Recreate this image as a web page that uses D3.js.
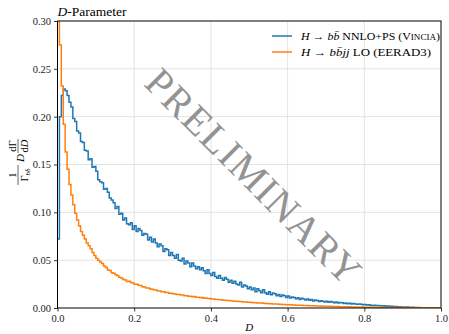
<!DOCTYPE html>
<html>
<head>
<meta charset="utf-8">
<script src="https://cdn.jsdelivr.net/npm/d3@7"></script>
<style>
  body { margin: 0; background: #fff; }
  svg { display: block; }
  text { font-family: "Liberation Serif", "DejaVu Serif", serif; }
</style>
</head>
<body>
<div id="chart"></div>
<script>

// histogram bins of width 0.005 in D, from 0 to 1
let binWidth = 0.005;

let vinciaValues = [
  0.072, 0.200, 0.222, 0.229, 0.227, 0.222, 0.215, 0.210, 0.198, 0.195,
  0.185, 0.183, 0.174, 0.173, 0.165, 0.164, 0.155, 0.156, 0.147, 0.148,
  0.143, 0.134, 0.132, 0.131, 0.124, 0.125, 0.121, 0.115, 0.113, 0.110,
  0.104, 0.106, 0.098, 0.099, 0.092, 0.094, 0.088, 0.087, 0.089, 0.082,
  0.086, 0.080, 0.083, 0.081, 0.076, 0.078, 0.077, 0.071, 0.074, 0.069,
  0.072, 0.068, 0.064, 0.067, 0.065, 0.059, 0.062, 0.061, 0.055, 0.058,
  0.055, 0.052, 0.056, 0.050, 0.049, 0.052, 0.046, 0.049, 0.047, 0.043,
  0.047, 0.044, 0.041, 0.043, 0.040, 0.042, 0.039, 0.036, 0.040, 0.036,
  0.034, 0.037, 0.033, 0.031, 0.034, 0.031, 0.029, 0.032, 0.030, 0.027,
  0.029, 0.026, 0.028, 0.025, 0.024, 0.027, 0.022, 0.024, 0.023, 0.020,
  0.022, 0.019, 0.021, 0.017, 0.020, 0.018, 0.016, 0.019, 0.016, 0.0145,
  0.017, 0.0138, 0.0158, 0.0150, 0.0128, 0.0142, 0.0120, 0.0135, 0.0128, 0.0110,
  0.0126, 0.0104, 0.0116, 0.0110, 0.0096, 0.0108, 0.0090, 0.0101, 0.0094, 0.0083,
  0.0094, 0.0080, 0.0088, 0.0074, 0.0083, 0.0078, 0.0068, 0.0077, 0.0071, 0.0062,
  0.0071, 0.0059, 0.0067, 0.0062, 0.0056, 0.0063, 0.0052, 0.0058, 0.0054, 0.0047,
  0.0053, 0.0045, 0.0050, 0.0042, 0.0047, 0.0043, 0.0038, 0.0043, 0.0039, 0.0034,
  0.0037, 0.0031, 0.0034, 0.0030, 0.0027, 0.0030, 0.0025, 0.0027, 0.0023, 0.0022,
  0.0023, 0.0019, 0.0020, 0.0017, 0.0018, 0.0015, 0.0016, 0.0013, 0.0013, 0.0011,
  0.0011, 0.0009, 0.0010, 0.0008, 0.0007, 0.0007, 0.0005, 0.0006, 0.0004, 0.0003,
  0.0003, 0.0002, 0.0002, 0.0001, 0.0001, 0, 0, 0, 0, 0
];

let eerad3Values = [
  0.330, 0.275, 0.232, 0.192, 0.163, 0.145, 0.129, 0.118, 0.108, 0.099,
  0.092, 0.086, 0.080, 0.076, 0.072, 0.068, 0.065, 0.062, 0.058, 0.055,
  0.052, 0.050, 0.048, 0.0465, 0.0438, 0.0424, 0.0398, 0.0392, 0.0368, 0.0362,
  0.0348, 0.0338, 0.0318, 0.0314, 0.0297, 0.0293, 0.0278, 0.0279, 0.0266, 0.0262,
  0.0248, 0.0247, 0.0238, 0.0234, 0.0222, 0.0220, 0.0210, 0.0209, 0.0198, 0.0197,
  0.0188, 0.0187, 0.0179, 0.0178, 0.0170, 0.0169, 0.0162, 0.0161, 0.0155, 0.0154,
  0.0148, 0.0147, 0.0141, 0.0141, 0.0135, 0.0135, 0.0129, 0.0129, 0.0123, 0.0124,
  0.0118, 0.0119, 0.0113, 0.0113, 0.0108, 0.0109, 0.0103, 0.0104, 0.0099, 0.0099,
  0.0095, 0.0094, 0.0090, 0.0090, 0.0086, 0.0086, 0.0082, 0.0082, 0.0078, 0.0078,
  0.0075, 0.0074, 0.0071, 0.0071, 0.0068, 0.0068, 0.0065, 0.0064, 0.0062, 0.0061,
  0.0059, 0.0058, 0.0056, 0.0055, 0.0053, 0.0052, 0.0051, 0.0049, 0.0048, 0.0047,
  0.0045, 0.0044, 0.0043, 0.0042, 0.0041, 0.0040, 0.0038, 0.0037, 0.0036, 0.0035,
  0.0034, 0.0033, 0.0032, 0.0031, 0.0030, 0.0029, 0.0029, 0.0028, 0.0027, 0.0026,
  0.0025, 0.0024, 0.0024, 0.0023, 0.0022, 0.0021, 0.0021, 0.0020, 0.0019, 0.0019,
  0.0018, 0.0017, 0.0017, 0.0016, 0.0016, 0.0015, 0.0015, 0.0014, 0.0014, 0.0013,
  0.0013, 0.0012, 0.0012, 0.0011, 0.0011, 0.0011, 0.0010, 0.0010, 0.0010, 0.0009,
  0.0009, 0.0009, 0.0008, 0.0008, 0.0008, 0.0007, 0.0007, 0.0007, 0.0006, 0.0006,
  0.0006, 0.0006, 0.0005, 0.0005, 0.0005, 0.0005, 0.0004, 0.0004, 0.0004, 0.0004,
  0.0004, 0.0003, 0.0003, 0.0003, 0.0003, 0.0003, 0.0003, 0.0002, 0.0002, 0.0002,
  0.0002, 0.0002, 0.0002, 0.0002, 0.0001, 0.0001, 0.0001, 0.0001, 0.0001, 0.0001
];

let xTicks = [0.0, 0.2, 0.4, 0.6, 0.8, 1.0];
let yTicks = [0.00, 0.05, 0.10, 0.15, 0.20, 0.25, 0.30];

let seriesColors = ["#1f77b4", "#ff7f0e"];

let width = 449;
let height = 334;
let margin = {top: 21, right: 8, bottom: 26, left: 57.5};

let svg = d3.select("#chart").append("svg")
    .attr("width", width)
    .attr("height", height);

let x = d3.scaleLinear().domain([0, 1]).range([margin.left, width - margin.right]);
let y = d3.scaleLinear().domain([0, 0.3]).range([height - margin.bottom, margin.top]);

// grid
svg.append("g")
    .selectAll("line")
    .data(xTicks.slice(1, -1))
    .join("line")
        .attr("x1", d => x(d)).attr("x2", d => x(d))
        .attr("y1", y(0)).attr("y2", y(0.3))
        .attr("stroke", "#dcdcdc").attr("stroke-width", 0.8);
svg.append("g")
    .selectAll("line")
    .data(yTicks.slice(1, -1))
    .join("line")
        .attr("x1", x(0)).attr("x2", x(1))
        .attr("y1", d => y(d)).attr("y2", d => y(d))
        .attr("stroke", "#dcdcdc").attr("stroke-width", 0.8);

svg.append("clipPath").attr("id", "plotclip")
  .append("rect")
    .attr("x", x(0)).attr("y", y(0.3))
    .attr("width", x(1) - x(0)).attr("height", y(0) - y(0.3));

function toSteps(values) {
    let pts = values.map((v, i) => [i * binWidth, v]);
    pts.push([values.length * binWidth, values[values.length - 1]]);
    return pts;
}

let stepLine = d3.line()
    .x(d => x(d[0]))
    .y(d => y(d[1]))
    .curve(d3.curveStepAfter);

let lines = svg.append("g").attr("clip-path", "url(#plotclip)");
[vinciaValues, eerad3Values].forEach((vals, i) => {
    lines.append("path")
        .datum(toSteps(vals))
        .attr("d", stepLine)
        .attr("fill", "none")
        .attr("stroke", seriesColors[i])
        .attr("stroke-width", 1.5)
        .attr("stroke-linejoin", "miter");
});

// watermark
svg.append("text")
    .attr("transform", "translate(254,177) rotate(45)")
    .attr("text-anchor", "middle")
    .attr("dominant-baseline", "central")
    .attr("font-size", 40)
    .attr("letter-spacing", 1.5)
    .attr("fill", "#939393")
    .text("PRELIMINARY");

// axes
let xAxis = svg.append("g")
    .attr("transform", `translate(0,${y(0)})`)
    .call(d3.axisBottom(x).tickValues(xTicks).tickFormat(d3.format(".1f")).tickSize(3.5).tickPadding(3));
let yAxis = svg.append("g")
    .attr("transform", `translate(${x(0)},0)`)
    .call(d3.axisLeft(y).tickValues(yTicks).tickFormat(d3.format(".2f")).tickSize(3.5).tickPadding(3));
[xAxis, yAxis].forEach(a => {
    a.select(".domain").remove();
    a.selectAll("text").attr("font-size", 10.5).attr("fill", "#222")
        .attr("font-family", "Liberation Serif");
    a.selectAll("line").attr("stroke", "#000").attr("stroke-width", 0.8);
});

svg.append("rect")
    .attr("x", x(0)).attr("y", y(0.3))
    .attr("width", x(1) - x(0)).attr("height", y(0) - y(0.3))
    .attr("fill", "none").attr("stroke", "#000").attr("stroke-width", 1);

// title
let title = svg.append("text")
    .attr("x", x(0)).attr("y", 16)
    .attr("font-size", 12)
    .attr("textLength", 69).attr("lengthAdjust", "spacingAndGlyphs");
title.append("tspan").attr("font-style", "italic").text("D");
title.append("tspan").text("-Parameter");

// x label
svg.append("text")
    .attr("x", (x(0) + x(1)) / 2).attr("y", 331)
    .attr("text-anchor", "middle")
    .attr("font-size", 11)
    .attr("font-style", "italic")
    .text("D");

// y label: 1/Γ_bb̄ D dΓ/dD
let yl = svg.append("g").attr("transform", "translate(20,163) rotate(-90)");
function frac(g, cx, num, den) {
    let n = g.append("text").attr("x", cx).attr("y", -4.5).attr("text-anchor", "middle").attr("font-size", 10.5);
    num(n);
    let d = g.append("text").attr("x", cx).attr("y", 7.5).attr("text-anchor", "middle").attr("font-size", 10.5);
    den(d);
}
frac(yl, -12, n => n.text("1"), d => {
    d.append("tspan").text("Γ");
    d.append("tspan").attr("font-style", "italic").attr("font-size", 7).attr("dy", 2.5).text("bb\u0304");
});
yl.append("line").attr("x1", -22).attr("x2", -2).attr("y1", -2).attr("y2", -2)
    .attr("stroke", "#000").attr("stroke-width", 0.6);
yl.append("text").attr("x", 5).attr("y", 3.5).attr("text-anchor", "middle")
    .attr("font-size", 11).attr("font-style", "italic").text("D");
frac(yl, 17, n => n.text("dΓ"), d => {
    d.append("tspan").text("d");
    d.append("tspan").attr("font-style", "italic").text("D");
});
yl.append("line").attr("x1", 10).attr("x2", 24).attr("y1", -2).attr("y2", -2)
    .attr("stroke", "#000").attr("stroke-width", 0.6);

// legend
let legendItems = [
    {len: 139, fill: t => {
        t.append("tspan").attr("font-style", "italic").text("H");
        t.append("tspan").text(" → ");
        t.append("tspan").attr("font-style", "italic").text("bb\u0304");
        t.append("tspan").text(" NNLO+PS (V");
        t.append("tspan").attr("font-size", 8).text("INCIA");
        t.append("tspan").text(")");
    }},
    {len: 130, fill: t => {
        t.append("tspan").attr("font-style", "italic").text("H");
        t.append("tspan").text(" → ");
        t.append("tspan").attr("font-style", "italic").text("bb\u0304jj");
        t.append("tspan").text(" LO (EERAD3)");
    }}
];
let legend = svg.append("g");
legendItems.forEach((item, i) => {
    let ly = 36 + i * 16;
    legend.append("line")
        .attr("x1", 272).attr("x2", 292).attr("y1", ly).attr("y2", ly)
        .attr("stroke", seriesColors[i]).attr("stroke-width", 1.5);
    let t = legend.append("text")
        .attr("x", 301).attr("y", ly + 3.5)
        .attr("font-size", 10.5)
        .attr("textLength", item.len).attr("lengthAdjust", "spacingAndGlyphs");
    item.fill(t);
});

</script>
</body>
</html>
